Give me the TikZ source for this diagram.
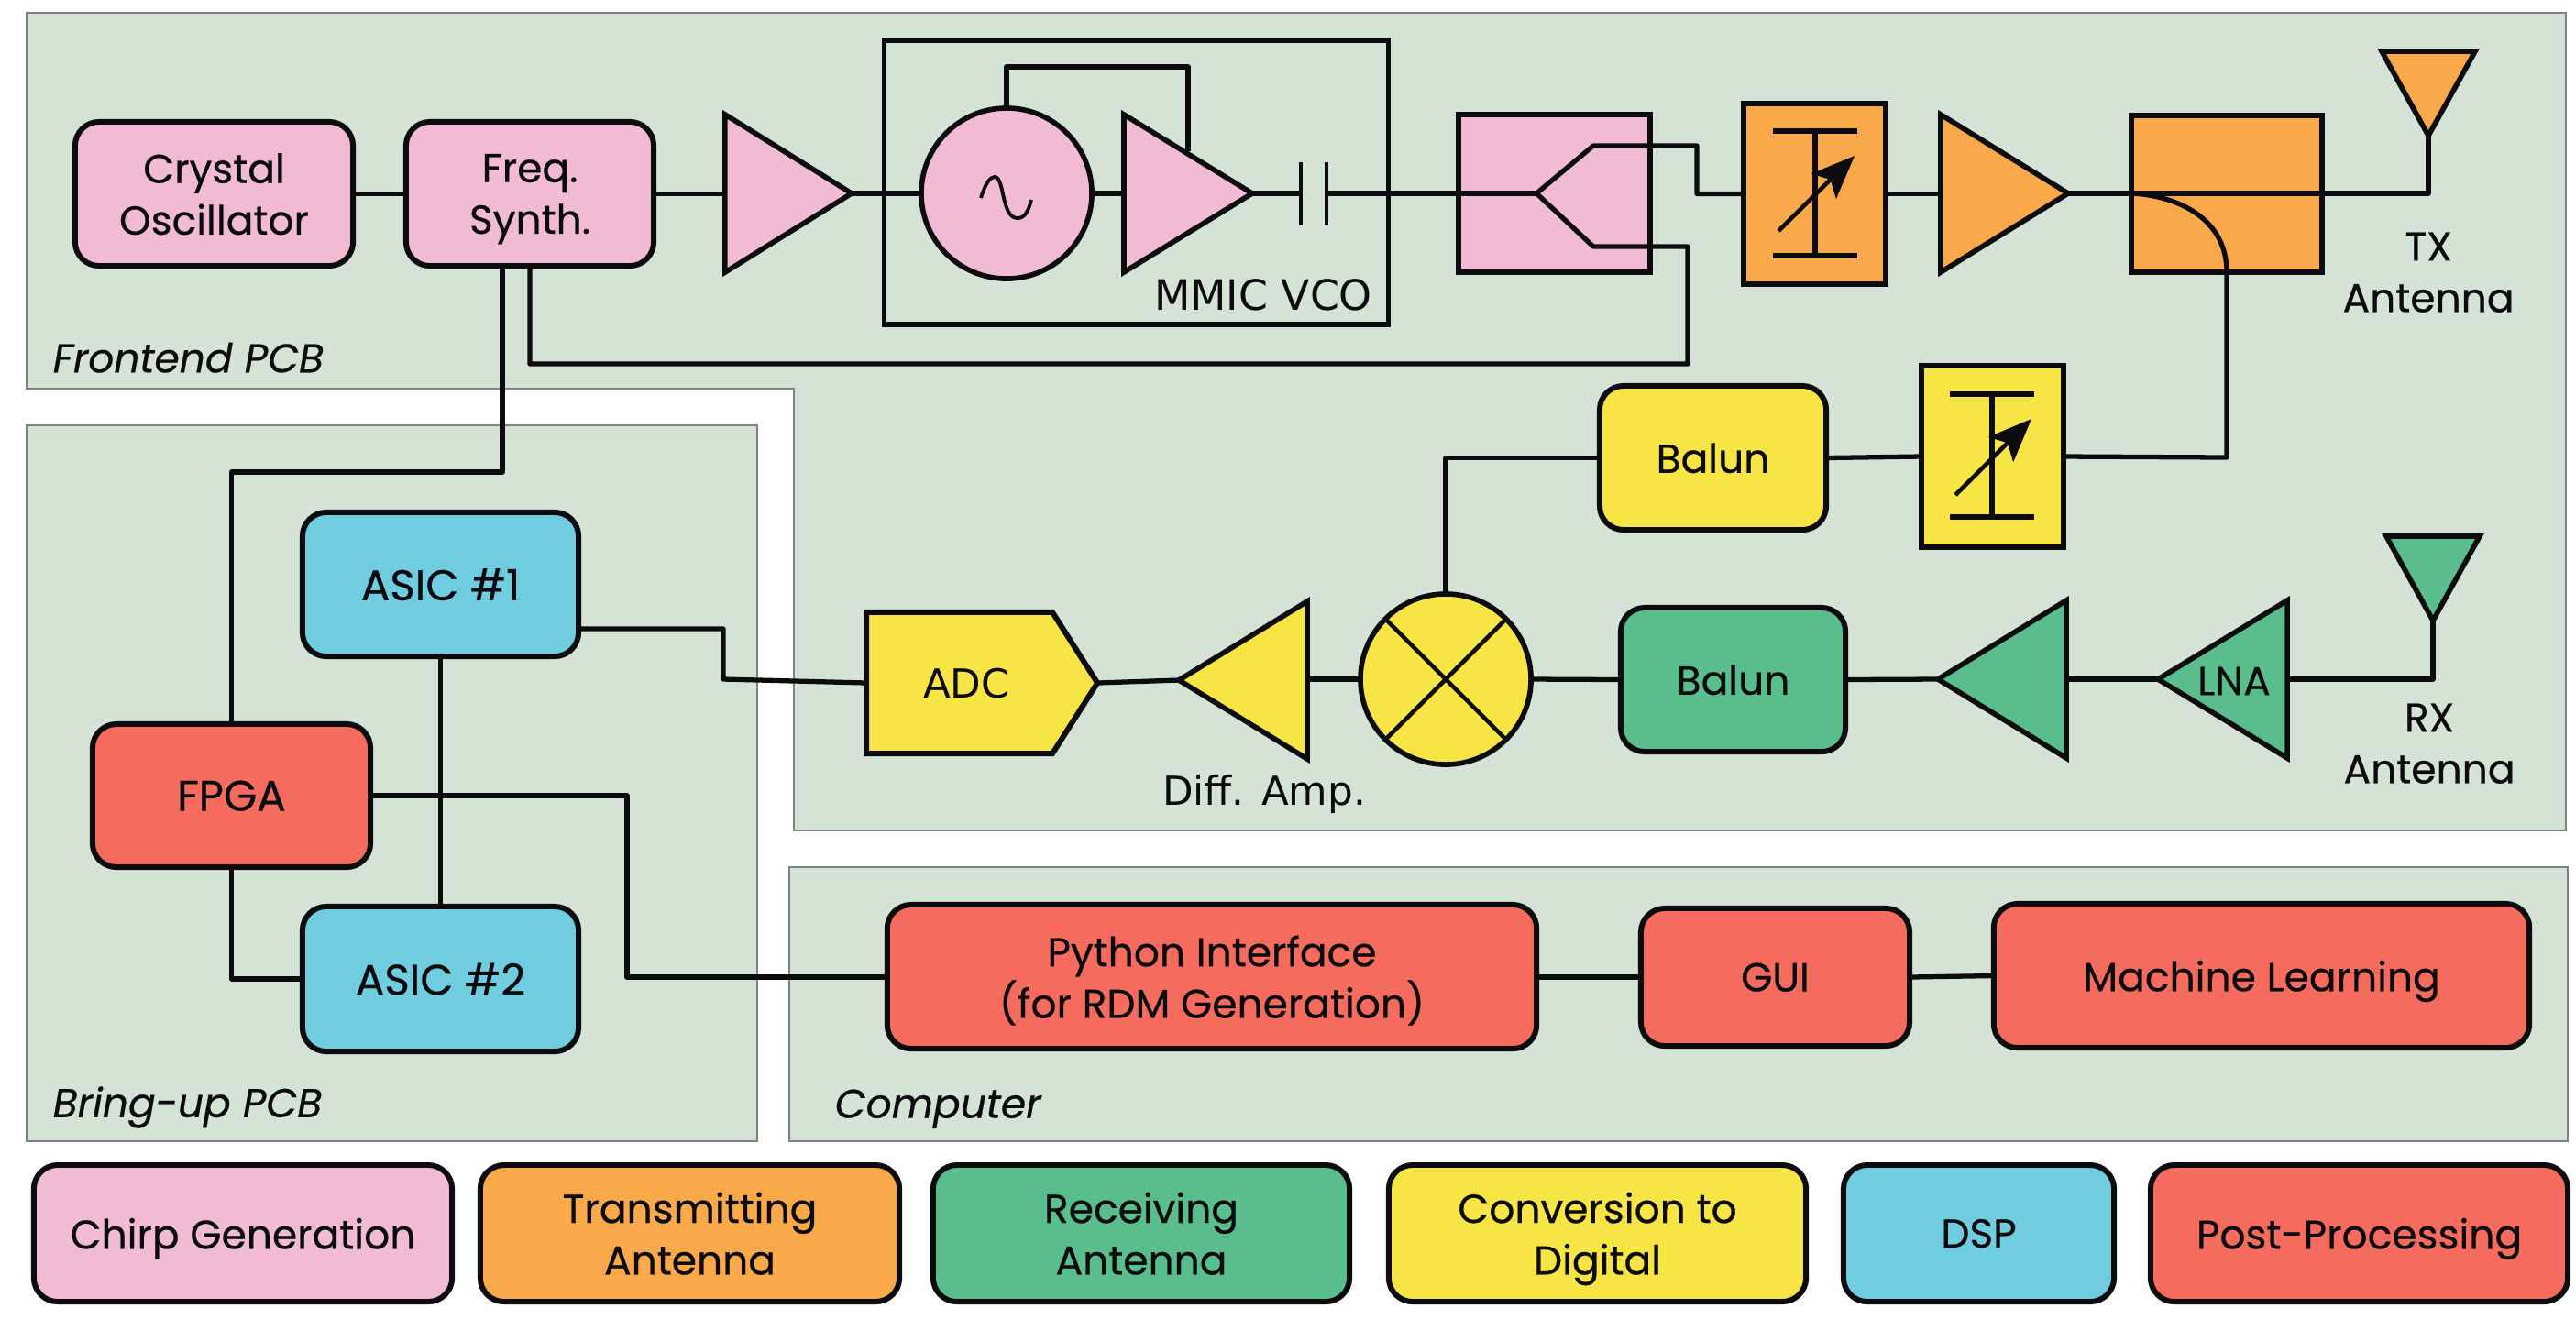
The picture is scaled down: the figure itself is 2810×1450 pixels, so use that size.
\documentclass[tikz,border=0pt]{standalone}
\usepackage{fontspec}
\setmainfont{Poppins}[RawFeature={embolden=0.5}]
\newfontfamily\dvfont{DejaVu Sans}
\usetikzlibrary{shapes.geometric,shapes.symbols,arrows.meta}
\definecolor{panelc}{HTML}{D4E3D6}
\definecolor{panelb}{HTML}{7C827F}
\definecolor{pinkc}{HTML}{F2BBD4}
\definecolor{orangec}{HTML}{FAA94A}
\definecolor{greenc}{HTML}{5ABD8C}
\definecolor{yellowc}{HTML}{F7E445}
\definecolor{bluec}{HTML}{70CDE0}
\definecolor{redc}{HTML}{F56C5E}
\definecolor{inkc}{HTML}{0C0C0E}
\tikzset{
  panel/.style={draw=panelb,fill=panelc,line width=0.8pt},
  wire/.style={draw=inkc,line width=1.5pt,line join=round},
  thinwire/.style={draw=inkc,line width=1.2pt},
  txt/.style={text=inkc,font=\fontsize{12.5}{16}\selectfont,align=center,inner sep=0pt,text depth=0pt},
  captxt/.style={font=\fontsize{13.3}{16}\selectfont},
  rbox/.style={draw=inkc,line width=1.7pt,rounded corners=0.26cm,outer sep=0pt,inner sep=0pt,txt},
  sbox/.style={draw=inkc,line width=1.7pt,outer sep=0pt,inner sep=0pt,txt},
  ampshape/.style={draw=inkc,line width=1.6pt,line join=miter,shape=isosceles triangle,isosceles triangle stretches,outer sep=0pt,inner sep=0pt},
  circ/.style={draw=inkc,line width=1.6pt,circle,outer sep=0pt,inner sep=0pt,minimum size=1.86cm},
  lab/.style={txt},
  plab/.style={txt,font=\fontsize{12.5}{16}\selectfont\itshape,anchor=west},
  dlab/.style={txt,font=\fontsize{12.4}{16}\selectfont\dvfont},
  tune/.style={draw=inkc,line width=1.3pt,-{Stealth[length=0.47cm,width=0.38cm,inset=0.1cm]}}
}
\newcommand{\mkbox}[7]{%
  \pgfmathsetmacro{\mycx}{(#3+#5)/2}\pgfmathsetmacro{\mycy}{(#4+#6)/2}%
  \pgfmathsetmacro{\myw}{(#5-#3)/100}\pgfmathsetmacro{\myh}{(#6-#4)/100}%
  \node[#2,minimum width=\myw cm,minimum height=\myh cm] (#1) at (\mycx,\mycy) {#7};}
% name, fill, tipx, tipy, rotation, length, base
\newcommand{\mktri}[7]{%
  \pgfmathsetmacro{\myl}{#6/100}\pgfmathsetmacro{\myb}{#7/100}%
  \node[ampshape,fill=#2,anchor=apex,shape border rotate=#5,minimum width=\myb cm,minimum height=\myl cm] (#1) at (#3,#4) {};}
\begin{document}
\begin{tikzpicture}[x=0.01cm,y=-0.01cm]
\useasboundingbox (0,0) rectangle (2810,1450);
% panels
\draw[panel] (29,14) -- (2799,14) -- (2799,906) -- (866,906) -- (866,424) -- (29,424) -- cycle;
\draw[panel] (29,464) rectangle (826,1245);
\draw[panel] (861,946) rectangle (2801,1245);
\node[plab] (frontendlab) at (57,390) {Frontend PCB};
\node[plab] (bringuplab) at (57,1202) {Bring-up PCB};
\node[plab] (computerlab) at (910,1204) {Computer};
% MMIC enclosure
\mkbox{mmic}{sbox,line width=1.5pt}{965}{44}{1514}{354}{}
\node[dlab,font=\fontsize{13}{16}\selectfont\dvfont] (mmiclab) at (1378,322) {MMIC VCO};
% top row
\mkbox{crystal}{rbox,fill=pinkc}{82}{133}{385}{290}{Crystal\\Oscillator}
\mkbox{freq}{rbox,fill=pinkc}{443}{133}{713}{290}{Freq.\\Synth.}
\mktri{amp1}{pinkc}{929}{211}{0}{138}{172}
\node[circ,fill=pinkc] (vco) at (1098,211) {};
\mktri{amp2}{pinkc}{1366}{211}{0}{140}{172}
\mkbox{splitter}{sbox,fill=pinkc}{1591}{125}{1800}{297}{}
\mkbox{att1}{sbox,fill=orangec}{1902}{113}{2057}{310}{}
\mktri{amp3}{orangec}{2256}{211}{0}{139}{172}
\mkbox{coupler}{sbox,fill=orangec}{2325}{126}{2533}{297}{}
\mktri{txant}{orangec}{2649}{148}{270}{92}{102}
\node[lab] (txlab) at (2649,297) {TX\\Antenna};
% middle row
\mkbox{balun1}{rbox,fill=yellowc}{1745}{421}{1992}{578}{Balun}
\mkbox{att2}{sbox,fill=yellowc}{2096}{399}{2251}{597}{}
% lower row
\node[sbox,fill=yellowc,shape=signal,signal to=east,signal pointer angle=115,minimum width=2.52cm,minimum height=1.54cm,anchor=west,font=\fontsize{12.4}{16}\selectfont\dvfont] (adc) at (945,745) {\hspace*{0.15cm}ADC};
\mktri{diff}{yellowc}{1286}{742}{180}{140}{172}
\node[dlab] (difflab) at (1379,862) {Diff. Amp.};
\node[circ,fill=yellowc] (mixer) at (1577,741) {};
\mkbox{balun2}{rbox,fill=greenc}{1768}{663}{2013}{820}{Balun}
\mktri{amp4}{greenc}{2114}{741}{180}{140}{172}
\mktri{lna}{greenc}{2354}{741}{180}{141}{172}
\node[lab] (lnalab) at (2437,743) {LNA};
\mktri{rxant}{greenc}{2654}{677}{270}{92}{102}
\node[lab] (rxlab) at (2650,811) {RX\\Antenna};
% bring-up
\mkbox{asic1}{rbox,fill=bluec,captxt}{330}{559}{631}{716}{ASIC \#1}
\mkbox{asic2}{rbox,fill=bluec,captxt}{330}{989}{631}{1147}{ASIC \#2}
\mkbox{fpga}{rbox,fill=redc,captxt}{101}{790}{404}{946}{FPGA}
% computer
\mkbox{python}{rbox,fill=redc}{968}{987}{1676}{1144}{Python Interface\\(for RDM Generation)}
\mkbox{gui}{rbox,fill=redc}{1790}{991}{2083}{1141}{GUI}
\mkbox{ml}{rbox,fill=redc}{2175}{986}{2759}{1143}{Machine Learning}
% legend
\mkbox{legchirp}{rbox,fill=pinkc}{37}{1271}{493}{1420}{Chirp Generation}
\mkbox{legtx}{rbox,fill=orangec}{524}{1271}{981}{1420}{Transmitting\\Antenna}
\mkbox{legrx}{rbox,fill=greenc}{1018}{1271}{1472}{1420}{Receiving\\Antenna}
\mkbox{legconv}{rbox,fill=yellowc}{1515}{1271}{1970}{1420}{Conversion to\\Digital}
\mkbox{legdsp}{rbox,fill=bluec}{2011}{1271}{2306}{1420}{DSP}
\mkbox{legpost}{rbox,fill=redc}{2346}{1271}{2801}{1420}{Post-Processing}
% helper points
\coordinate (capL) at (1419,211);
\coordinate (capR) at (1447,211);
\coordinate (sp) at (1676,211);
\coordinate (spU) at (1738,159);
\coordinate (spUr) at (1851,159);
\coordinate (spD) at (1738,269);
\coordinate (spDr) at (1841,269);
\coordinate (fbk) at (1296,165);
\coordinate (fbk2) at (1098,73);
\coordinate (lo) at (1841,397);
\coordinate (fsyn) at (548,290);
\coordinate (ctl) at (548,515);
\coordinate (cup) at (2429,297);
\coordinate (cin) at (2325,211);
\coordinate (a1o) at (631,686);
\coordinate (a1j) at (789,741);
\coordinate (fpo) at (684,1066);
\coordinate (txc) at (2649,211);
\coordinate (rxc) at (2654,741);
% connectors
\draw[wire] (crystal.east) -- (freq.west);
\draw[wire] (freq.east) -- (amp1.west |- freq.east);
\draw[wire] (amp1.apex) -- (vco.west);
\draw[wire] (vco.east) -- (amp2.west |- vco.east);
\draw[wire] (vco.north) -- (fbk2) -| (fbk);
\draw[wire] (amp2.apex) -- (capL);
\draw[wire] (capR) -- (sp);
\draw[thinwire] (1419,177) -- (1419,246) (1447,177) -- (1447,246);
\draw[wire] (sp) -- (spU) -- (spUr) |- (att1.west);
\draw[wire] (sp) -- (spD) -- (spDr) -- (lo) -| (freq.south);
\draw[wire] (att1.east) -- (amp3.west |- att1.east);
\draw[wire] (amp3.apex) -- (txc) -- (txant.apex);
\draw[wire] (cin) .. controls (2370,213) and (2429,235) .. (cup) -- (2429,499) -- (att2.east);
\draw[wire] (att2.west) -- (balun1.east);
\draw[wire] (balun1.west) -| (mixer.north);
\draw[wire] (fsyn) -- (ctl) -| (fpga.north);
\draw[wire] (fpga.south) |- (asic2.west);
\draw[wire] (asic1.south) -- (asic2.north);
\draw[wire] (a1o) -| (a1j) -- (adc.west);
\draw[wire] (fpga.east) -| (fpo) -- (python.west |- fpo);
\draw[wire] (python.east |- gui.west) -- (gui.west);
\draw[wire] (gui.east) -- (ml.west);
\draw[wire] (adc.east) -- (diff.apex);
\draw[wire] (diff.east |- mixer.west) -- (mixer.west);
\draw[wire] (mixer.east) -- (balun2.west);
\draw[wire] (balun2.east) -- (amp4.apex);
\draw[wire] (amp4.east |- lna.apex) -- (lna.apex);
\draw[wire] (lna.east |- rxc) -- (rxc) -- (rxant.apex);
% symbols inside nodes
\draw[draw=inkc,line width=1.3pt] (mixer.45) -- (mixer.225) (mixer.135) -- (mixer.315);
\draw[draw=inkc,line width=1.1pt] (1070,216) .. controls (1075,200) and (1080,193) .. (1085,193) .. controls (1096,193) and (1092,238) .. (1110,238) .. controls (1118,238) and (1122,230) .. (1125,218);
\draw[draw=inkc,line width=1.5pt] (1934,143) -- (2026,143) (1980,143) -- (1980,279) (1934,279) -- (2026,279);
\draw[tune] (1940,252) -- (2023,170);
\draw[draw=inkc,line width=1.5pt] (2127,430) -- (2219,430) (2173,430) -- (2173,564) (2127,564) -- (2219,564);
\draw[tune] (2133,540) -- (2216,457);
\end{tikzpicture}
\end{document}
